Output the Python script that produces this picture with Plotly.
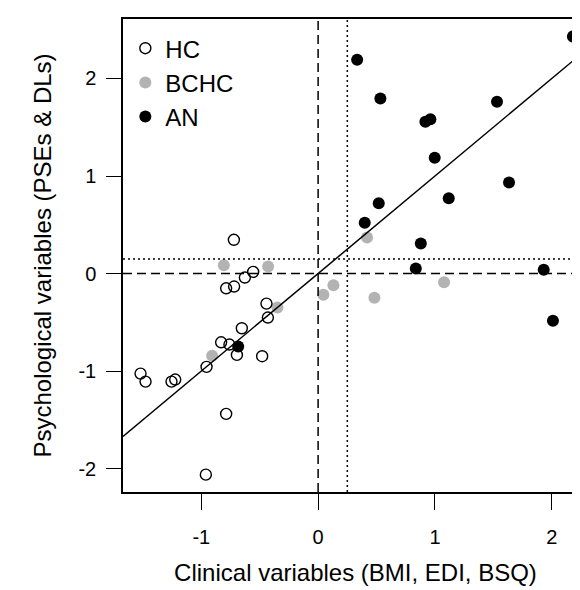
import plotly.graph_objects as go

# standardised scores
hc_x = [-0.721, -0.556, -0.627, -0.719, -0.787, -0.442, -0.430, -0.653, -0.830, -0.759,
        -0.695, -0.479, -0.955, -1.520, -1.477, -1.255, -1.223, -0.787, -0.961]
hc_y = [0.346, 0.017, -0.041, -0.133, -0.151, -0.308, -0.451, -0.561, -0.705, -0.728,
        -0.834, -0.848, -0.957, -1.026, -1.108, -1.108, -1.087, -1.439, -2.062]

bchc_x = [-0.807, -0.428, -0.348, -0.907, 0.045, 0.131, 0.419, 1.078, 0.482]
bchc_y = [0.085, 0.072, -0.349, -0.844, -0.218, -0.120, 0.369, -0.089, -0.249]

an_x = [2.181, 0.334, 0.533, 1.531, 0.918, 0.961, 0.998, 1.634, 0.519, 1.118,
        0.399, 0.879, 0.836, 1.931, 2.010, -0.684]
an_y = [2.431, 2.192, 1.795, 1.761, 1.556, 1.583, 1.187, 0.933, 0.721, 0.772,
        0.520, 0.308, 0.051, 0.038, -0.485, -0.749]

# regression line and reference values
fit_intercept = 0.0
fit_slope = 1.0
cut_x = 0.25
cut_y = 0.15

x_ticks = [-1, 0, 1, 2]
y_ticks = [-2, -1, 0, 1, 2]
x_range = [-1.67, 2.31]
y_range = [-2.24, 2.61]

FONT = "Liberation Sans, Arial, sans-serif"

fig = go.Figure()

fig.add_trace(go.Scatter(
    x=an_x, y=an_y, mode="markers", name="AN",
    marker=dict(symbol="circle", size=12, color="black"),
))
fig.add_trace(go.Scatter(
    x=bchc_x, y=bchc_y, mode="markers", name="BCHC",
    marker=dict(symbol="circle", size=12, color="#b3b3b3"),
))
fig.add_trace(go.Scatter(
    x=hc_x, y=hc_y, mode="markers", name="HC",
    marker=dict(symbol="circle-open", size=11, color="black", line=dict(width=1.4)),
))

# fitted line across the whole plotting region
fit_x = list(x_range)
fit_y = [fit_intercept + fit_slope * v for v in fit_x]
fig.add_trace(go.Scatter(
    x=fit_x, y=fit_y, mode="lines", showlegend=False,
    line=dict(color="black", width=1.5),
))

fig.add_hline(y=0, line=dict(color="black", width=1.5, dash="9px,5px"))
fig.add_vline(x=0, line=dict(color="black", width=1.5, dash="9px,5px"))
fig.add_hline(y=cut_y, line=dict(color="black", width=1.5, dash="2px,3px"))
fig.add_vline(x=cut_x, line=dict(color="black", width=1.5, dash="2px,3px"))

fig.update_layout(
    width=580, height=590,
    margin=dict(l=115, r=0, t=11, b=106),
    plot_bgcolor="white", paper_bgcolor="white",
    font=dict(family=FONT, size=20, color="black"),
    legend=dict(
        x=0.005, y=0.985, xanchor="left", yanchor="top",
        traceorder="reversed", bgcolor="rgba(0,0,0,0)",
        font=dict(size=24), itemwidth=30,
    ),
)

fig.update_xaxes(
    range=x_range, tickvals=x_ticks, ticktext=[str(v) for v in x_ticks],
    showgrid=False, zeroline=False,
    showline=True, linecolor="black", linewidth=1.5, mirror=True,
    ticks="outside", ticklen=16, tickwidth=1.3, tickcolor="black",
    ticklabelstandoff=10,
    title=dict(text="Clinical variables (BMI, EDI, BSQ)", font=dict(size=24), standoff=17),
)
fig.update_yaxes(
    range=y_range, tickvals=y_ticks, ticktext=[str(v) for v in y_ticks],
    showgrid=False, zeroline=False,
    showline=True, linecolor="black", linewidth=1.5,
    ticks="outside", ticklen=15, tickwidth=1.3, tickcolor="black",
    ticklabelstandoff=6,
    title=dict(text="Psychological variables (PSEs & DLs)", font=dict(size=24), standoff=20),
)

fig.write_html("out.html")
